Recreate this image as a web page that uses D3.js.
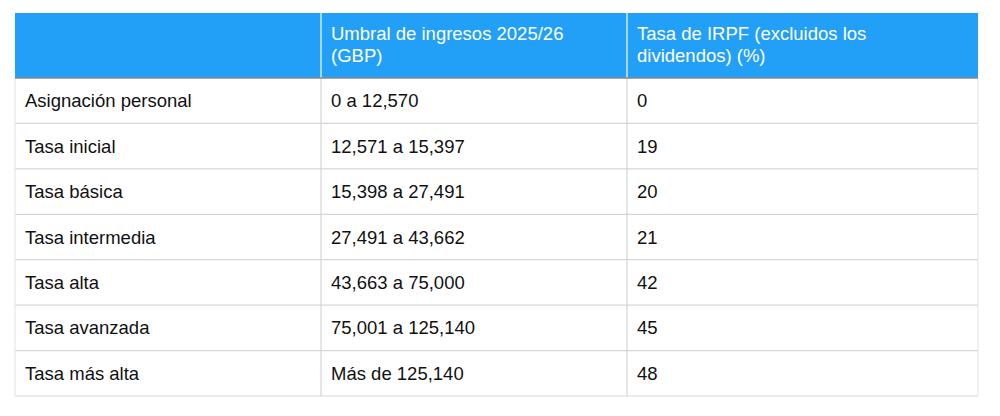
<!DOCTYPE html>
<html><head><meta charset="utf-8">
<script src="https://cdn.jsdelivr.net/npm/d3@7"></script>
<style>body{margin:0;background:#fff}</style></head>
<body><svg id="c" width="1000" height="416"></svg>
<script>
const headers = [[""], ["Umbral de ingresos 2025/26", "(GBP)"], ["Tasa de IRPF (excluidos los", "dividendos) (%)"]];
const bands = ["Asignación personal","Tasa inicial","Tasa básica","Tasa intermedia","Tasa alta","Tasa avanzada","Tasa más alta"];
const thresholds = ["0 a 12,570","12,571 a 15,397","15,398 a 27,491","27,491 a 43,662","43,663 a 75,000","75,001 a 125,140","Más de 125,140"];
const rates = ["0","19","20","21","42","45","48"];

const svg = d3.select("#c");
const colEdges = [15, 321, 627, 978];
const tableTop = 13, headH = 65, rowH = 45.43;
const font = "'Liberation Sans', Arial, Helvetica, sans-serif";
const rows = bands.map((b,i)=>[b, thresholds[i], rates[i]]);
const y = d3.scaleBand().domain(d3.range(rows.length)).range([tableTop+headH, tableTop+headH+rowH*rows.length]);
const bottom = tableTop+headH+rowH*rows.length;

svg.append("rect").attr("x",colEdges[0]).attr("y",tableTop).attr("width",colEdges[3]-colEdges[0]).attr("height",headH).attr("fill","#22A0F8");
const g = svg.append("g").attr("stroke","#d6d6d6").attr("stroke-width",1.2);
rows.forEach((r,i)=>{
  g.append("line").attr("x1",colEdges[0]).attr("x2",colEdges[3]).attr("y1",y(i)+y.bandwidth()).attr("y2",y(i)+y.bandwidth());
});
g.append("line").attr("x1",colEdges[0]).attr("x2",colEdges[0]).attr("y1",tableTop+headH).attr("y2",bottom).attr("stroke","#e6e6e6");
g.append("line").attr("x1",colEdges[3]).attr("x2",colEdges[3]).attr("y1",tableTop+headH).attr("y2",bottom).attr("stroke","#e6e6e6");
[1,2].forEach(c=>{
  g.append("line").attr("x1",colEdges[c]).attr("x2",colEdges[c]).attr("y1",tableTop+headH).attr("y2",bottom);
  svg.append("line").attr("x1",colEdges[c]).attr("x2",colEdges[c]).attr("y1",tableTop).attr("y2",tableTop+headH).attr("stroke","#ffffff").attr("stroke-width",1.2);
});
svg.append("line").attr("x1",colEdges[0]).attr("x2",colEdges[3]).attr("y1",tableTop+headH).attr("y2",tableTop+headH).attr("stroke","#888").attr("stroke-width",1.5);

headers.forEach((h,c)=>{
  h.forEach((line,k)=>{
    svg.append("text").attr("x",colEdges[c]+10).attr("y",tableTop+27+k*22).attr("fill","#fff")
      .attr("font-family",font).attr("font-size",18.5).text(line);
  });
});
rows.forEach((r,i)=>{
  r.forEach((v,c)=>{
    svg.append("text").attr("x",colEdges[c]+10).attr("y",y(i)+y.bandwidth()/2+6.5).attr("fill","#111")
      .attr("font-family",font).attr("font-size",18.5).text(v);
  });
});
</script></body></html>
